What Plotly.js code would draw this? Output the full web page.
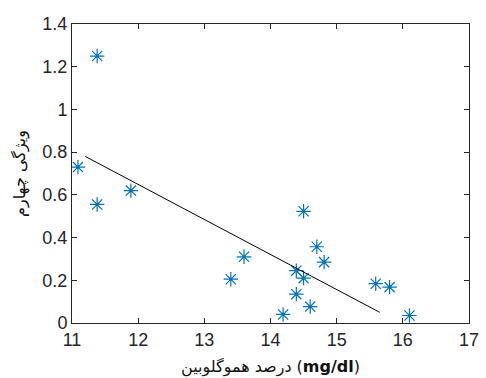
<!DOCTYPE html>
<html><head><meta charset="utf-8">
<script src="https://cdn.plot.ly/plotly-3.0.1.min.js"></script>
<style>html,body{margin:0;padding:0;background:#fff;}#chart{width:486px;height:378px;}</style>
</head><body><div id="chart"></div>
<script>
var hemoglobin = [11.09, 11.38, 11.38, 11.89, 13.40, 13.60, 14.19, 14.39, 14.39, 14.50, 14.50, 14.60, 14.70, 14.81, 15.59, 15.80, 16.10];
var feature4   = [0.73, 1.25, 0.555, 0.62, 0.205, 0.31, 0.04, 0.245, 0.135, 0.21, 0.523, 0.077, 0.357, 0.285, 0.184, 0.168, 0.035];
var fitX = [11.2, 15.65];
var fitY = [0.78, 0.05];
var xTicks = [11, 12, 13, 14, 15, 16, 17];
var yTicks = [0, 0.2, 0.4, 0.6, 0.8, 1, 1.2, 1.4];

var axisCommon = {
  showgrid: false, zeroline: false, showline: true, mirror: 'ticks',
  linecolor: '#262626', linewidth: 1, ticks: 'inside', ticklen: 5, tickcolor: '#262626',
  tickfont: {family: 'Liberation Sans, Arial, sans-serif', size: 18, color: '#262626'}
};

var traces = [
  {x: hemoglobin, y: feature4, mode: 'markers', type: 'scatter',
   marker: {symbol: 'asterisk-open', size: 12, color: '#0072BD', line: {color: '#0072BD', width: 1.2}}},
  {x: fitX, y: fitY, mode: 'lines', type: 'scatter', line: {color: '#000', width: 1}}
];

var layout = {
  width: 486, height: 378,
  margin: {l: 72, r: 17, t: 24, b: 55},
  showlegend: false,
  paper_bgcolor: '#fff', plot_bgcolor: '#fff',
  xaxis: Object.assign({}, axisCommon, {range: [11, 17], tickvals: xTicks, ticktext: xTicks.map(String),
    title: {text: 'درصد هموگلوبین (<b>mg/dl</b>)', standoff: 12,
      font: {family: 'DejaVu Sans, sans-serif', size: 16, color: '#111'}}}),
  yaxis: Object.assign({}, axisCommon, {range: [0, 1.4], tickvals: yTicks, ticktext: yTicks.map(String),
    title: {text: 'ویژگی چهارم', standoff: 12,
      font: {family: 'DejaVu Sans, sans-serif', size: 16, color: '#111'}}})
};

Plotly.newPlot('chart', traces, layout, {displayModeBar: false, staticPlot: true});
</script></body></html>
